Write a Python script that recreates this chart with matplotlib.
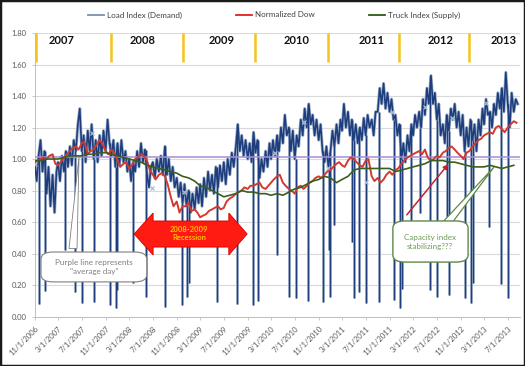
import pandas as pd
import matplotlib
matplotlib.use("Agg")
import matplotlib.pyplot as plt
from matplotlib.patches import Polygon, FancyBboxPatch, Rectangle
from matplotlib.lines import Line2D

plt.rcParams['font.family'] = ['Lato', 'DejaVu Sans']

# ---- values ----
months = pd.date_range('2006-11-01', '2013-08-01', freq='MS')

# Load Index (Demand): three readings a month (1st, 11th, 21st)
load_vals = [
    0.97, 0.86, 1.02,  1.12, 0.92, 1.05,   # 2006 Nov-Dec
    0.78, 0.95, 0.70,  0.90, 0.66, 0.92,  0.98, 0.86, 1.02,  0.92, 1.05, 0.95,   # 2007
    1.08, 0.96, 1.12,  1.05, 1.22, 1.32,  1.05, 1.15, 0.98,  1.18, 1.05, 1.22,
    1.00, 1.12, 0.98,  1.15, 1.02, 1.18,  1.05, 1.25, 1.10,  1.02, 1.12, 0.95,
    1.10, 0.96, 1.12,  0.98, 1.05, 0.92,  1.00, 0.86, 0.98,  0.92, 1.05, 0.95,   # 2008
    1.10, 0.98, 1.06,  0.90, 0.82, 0.95,  0.98, 0.88, 1.00,  0.92, 1.02, 0.90,
    1.08, 0.90, 1.00,  0.86, 0.95, 0.82,  0.88, 0.76, 0.85,  0.72, 0.84, 0.70,
    0.80, 0.66, 0.78,  0.68, 0.82, 0.72,  0.84, 0.70, 0.88,  0.76, 0.92, 0.80,   # 2009
    0.90, 0.78, 0.95,  0.82, 0.96, 0.86,  0.98, 0.84, 1.00,  0.90, 1.04, 0.95,
    1.08, 1.22, 1.05,  1.15, 1.02, 1.12,  1.00, 1.10, 0.98,  1.17, 1.04, 1.12,
    0.88, 1.00, 0.92,  1.05, 0.95, 1.10,  1.00, 1.12, 1.02,  1.15, 1.05, 1.20,   # 2010
    1.10, 1.28, 1.15,  1.20, 1.05, 1.18,  1.00, 1.15, 1.08,  1.25, 1.15, 1.32,
    1.20, 1.35, 1.22,  1.28, 1.15, 1.25,  1.12, 1.22, 1.05,  0.98, 1.08, 0.95,
    1.05, 1.18, 1.08,  1.22, 1.10, 1.25,  1.18, 1.35, 1.20,  1.30, 1.15, 1.25,   # 2011
    1.12, 1.22, 1.10,  1.20, 1.12, 1.26,  1.15, 1.28, 1.20,  1.25, 1.15, 1.30,
    1.30, 1.45, 1.35,  1.48, 1.32, 1.42,  1.30, 1.38, 1.25,  1.28, 1.15, 1.22,
    1.00, 1.10, 0.98,  1.15, 1.05, 1.22,  1.15, 1.28, 1.20,  1.30, 1.20, 1.38,   # 2012
    1.28, 1.45, 1.35,  1.53, 1.35, 1.42,  1.25, 1.35, 1.15,  1.22, 1.10, 1.28,
    1.18, 1.32, 1.25,  1.35, 1.20, 1.30,  1.15, 1.28, 1.05,  1.20, 1.08, 1.25,
    1.12, 1.22, 1.05,  1.25, 1.15, 1.32,  1.22, 1.38, 1.28,  1.30, 1.20, 1.35,   # 2013
    1.28, 1.42, 1.32,  1.45, 1.30, 1.55,  1.35, 1.20, 1.42,  1.30, 1.38, 1.35,
]

# holiday drop-outs in the load index
dip_dates = ['2006-11-23', '2006-12-25', '2007-04-06', '2007-05-28', '2007-07-04',
             '2007-09-03', '2007-11-22', '2007-12-25', '2008-01-01', '2008-03-21',
             '2008-05-26', '2008-09-01', '2008-11-27', '2008-12-25', '2009-01-01',
             '2009-05-25', '2009-09-07', '2009-11-26', '2009-12-25', '2010-04-02',
             '2010-05-31', '2010-07-05', '2010-09-06', '2010-11-25', '2010-12-24',
             '2010-12-31', '2011-01-17', '2011-04-22', '2011-05-02', '2011-05-30',
             '2011-07-04', '2011-09-05', '2011-11-24', '2011-12-26', '2012-01-02',
             '2012-02-20', '2012-04-06', '2012-05-28', '2012-07-04', '2012-08-20',
             '2012-09-03', '2012-11-22', '2012-12-25', '2013-01-01', '2013-03-29',
             '2013-05-27', '2013-07-04']
dip_vals = [0.08, 0.16, 0.42, 0.155, 0.085,
            0.09, 0.073, 0.054, 0.17, 0.21,
            0.124, 0.06, 0.073, 0.124, 0.21,
            0.09, 0.08, 0.073, 0.10, 0.39,
            0.124, 0.117, 0.10, 0.093, 0.42,
            0.124, 0.58, 0.47, 0.117, 0.155,
            0.086, 0.092, 0.105, 0.054, 0.175,
            0.47, 0.66, 0.17, 0.124, 0.63,
            0.136, 0.117, 0.086, 0.21, 0.57,
            0.206, 0.117]

# light markers sitting on the load index
mark_dates = ['2006-11-03', '2007-08-25', '2008-06-28', '2008-12-07', '2010-03-20',
              '2010-08-20', '2010-12-20', '2011-07-05', '2011-11-15', '2012-05-01',
              '2012-09-15', '2013-03-10']
mark_vals = [0.97, 1.165, 0.815, 0.79, 1.04, 1.235, 0.94, 0.855, 1.30, 1.33, 1.26, 1.355]

# Normalized Dow: two readings a month (1st, 15th)
dow_vals = [
    0.98, 0.99,  1.00, 1.01,
    1.00, 1.02,  1.03, 0.97,  0.96, 0.98,  1.01, 1.03,  1.05, 1.07,  1.08, 1.06,
    1.10, 1.11,  1.03, 1.05,  1.06, 1.09,  1.12, 1.10,  1.05, 1.03,  1.06, 1.04,
    0.99, 0.95,  0.97, 0.98,  0.94, 0.96,  1.00, 1.01,  1.03, 1.02,  0.99, 0.93,
    0.90, 0.87,  0.90, 0.91,  0.89, 0.84,  0.76, 0.70,  0.73, 0.66,  0.70, 0.70,
    0.72, 0.67,  0.68, 0.66,  0.63, 0.64,  0.65, 0.67,  0.68, 0.69,  0.70, 0.68,
    0.69, 0.73,  0.75, 0.76,  0.78, 0.79,  0.80, 0.82,  0.81, 0.83,  0.83, 0.84,
    0.85, 0.82,  0.81, 0.83,  0.85, 0.87,  0.89, 0.90,  0.85, 0.83,  0.81, 0.80,
    0.78, 0.82,  0.83, 0.81,  0.83, 0.85,  0.86, 0.88,  0.89, 0.88,  0.90, 0.92,
    0.93, 0.95,  0.97, 0.98,  0.96, 0.95,  0.99, 1.01,  1.00, 0.98,  0.96, 0.95,
    0.99, 1.00,  0.89, 0.86,  0.88, 0.85,  0.87, 0.90,  0.92, 0.90,  0.93, 0.94,
    0.97, 0.99,  1.01, 1.02,  1.03, 1.04,  1.05, 1.03,  1.06, 1.01,  0.99, 1.00,
    1.02, 1.01,  1.04, 1.05,  1.07, 1.08,  1.06, 1.04,  1.02, 1.00,  1.04, 1.05,
    1.08, 1.10,  1.12, 1.13,  1.15, 1.16,  1.17, 1.16,  1.20, 1.21,  1.19, 1.17,
    1.20, 1.22,  1.24, 1.23,
]

# Truck Index (Supply): one reading a month
truck_vals = [
    0.99, 0.99,
    1.00, 1.00, 1.00, 1.01, 1.02, 1.02, 1.02, 1.03, 1.03, 1.04, 1.04, 1.03,
    1.02, 1.01, 1.00, 0.99, 0.98, 0.96, 0.95, 0.94, 0.93, 0.92, 0.91, 0.89,
    0.88, 0.86, 0.83, 0.82, 0.80, 0.78, 0.76, 0.77, 0.78, 0.80, 0.79, 0.79,
    0.78, 0.78, 0.77, 0.78, 0.77, 0.79, 0.81, 0.82, 0.84, 0.86, 0.87, 0.89,
    0.88, 0.85, 0.87, 0.89, 0.93, 0.94, 0.94, 0.94, 0.94, 0.94, 0.94, 0.92,
    0.93, 0.94, 0.95, 0.96, 0.97, 0.99, 0.99, 0.99, 0.98, 0.98, 0.97, 0.96,
    0.95, 0.95, 0.95, 0.96, 0.95, 0.94, 0.95, 0.96,
]

average_day = 1.015

year_labels = ['2007', '2008', '2009', '2010', '2011', '2012', '2013']
year_label_dates = ['2007-03-19', '2008-05-10', '2009-06-20', '2010-07-10',
                    '2011-08-01', '2012-07-21', '2013-06-10']
year_line_dates = ['2006-11-08', '2007-11-28', '2008-12-03', '2009-12-07',
                   '2010-12-18', '2011-12-19', '2012-12-13']

tick_dates = pd.date_range('2006-11-01', '2013-07-01', freq='4MS')

# ---- series ----
load_dates = [m + pd.Timedelta(days=d) for m in months for d in (0, 10, 20)]
dow_dates = [m + pd.Timedelta(days=d) for m in months for d in (0, 14)]
load = pd.Series(load_vals, index=pd.DatetimeIndex(load_dates))
dips = pd.Series(dip_vals, index=pd.to_datetime(dip_dates))
# each drop-out hangs from the nearest regular reading
dip_tops = load.reindex(dips.index, method='nearest')

fig = plt.figure(figsize=(5.25, 3.66), dpi=100)
ax = fig.add_axes([0.0661, 0.1352, 0.9244, 0.7746])

ax.plot(load.index, load.values, color='#9DAEC9', lw=2.2, zorder=2)
ax.vlines(dips.index, dips.values, dip_tops.values, color='#9DAEC9', lw=2.0, zorder=2)
ax.plot(load.index, load.values, color='#1D3D7C', lw=1.15, zorder=3)
ax.vlines(dips.index, dips.values, dip_tops.values, color='#1D3D7C', lw=0.9, zorder=3)
ax.plot(pd.to_datetime(mark_dates), mark_vals, ls='none', marker='x', ms=3.5,
        mew=0.9, color='#A9BCD8', zorder=3.5)
ax.axhline(average_day, color='#A88CDA', lw=1.1, zorder=4)
ax.plot(dow_dates, dow_vals, color='#D33A2F', lw=1.4, zorder=5)
ax.plot(months, truck_vals, color='#3A5F1C', lw=1.2, zorder=6)

# year bands along the top
ax.vlines(pd.to_datetime(year_line_dates), 1.615, 1.80, color='#F6C21B', lw=1.8, zorder=3)
for lab, d in zip(year_labels, pd.to_datetime(year_label_dates)):
    ax.text(d, 1.75, lab, ha='center', va='center', fontsize=8,
            fontweight='bold', color='#111111')

ax.set_xlim(pd.Timestamp('2006-11-01'), pd.Timestamp('2013-09-02'))
ax.set_ylim(0, 1.8)
ax.set_yticks([i * 0.2 for i in range(10)])
ax.set_yticklabels([f'{i * 0.2:.2f}' for i in range(10)])
ax.set_xticks(tick_dates)
ax.set_xticklabels([f'{d.month}/{d.day}/{d.year}' for d in tick_dates],
                   rotation=45, ha='right', rotation_mode='anchor')
ax.tick_params(labelsize=5.5, labelcolor='#595959', color='#BFBFBF',
               length=2.5, width=0.6)
ax.yaxis.grid(True, color='#D9D9D9', lw=0.8)
ax.set_axisbelow(True)
for s in ['top', 'right']:
    ax.spines[s].set_visible(False)
for s in ['left', 'bottom']:
    ax.spines[s].set_color('#BFBFBF')
    ax.spines[s].set_linewidth(0.7)

# recession arrow
arrow = Polygon([(0.2048, 0.291), (0.2440, 0.365), (0.2440, 0.337), (0.4000, 0.337),
                 (0.4000, 0.365), (0.4378, 0.291), (0.4000, 0.217), (0.4000, 0.245),
                 (0.2440, 0.245), (0.2440, 0.217)],
                closed=True, transform=ax.transAxes, facecolor='#FF1A12',
                edgecolor='#D40000', lw=0.6, zorder=8)
ax.add_patch(arrow)
ax.text(0.318, 0.293, '2008-2009\nRecession', transform=ax.transAxes, ha='center',
        va='center', fontsize=5.5, fontweight='bold', color='#FFC000',
        linespacing=1.1, zorder=9)

# "average day" callout
ax.add_patch(Polygon([(0.0707, 0.24), (0.0913, 0.5637), (0.0872, 0.24)], closed=True,
                     transform=ax.transAxes, facecolor='white', edgecolor='#7F7F7F',
                     lw=0.6, zorder=9))
ax.add_patch(FancyBboxPatch((0.013, 0.122), 0.218, 0.1055,
                            boxstyle='round,pad=0,rounding_size=0.025',
                            transform=ax.transAxes, facecolor='white',
                            edgecolor='#7F7F7F', lw=0.8, zorder=10))
ax.text(0.1224, 0.1746, 'Purple line represents\n"average day"', transform=ax.transAxes,
        ha='center', va='center', fontsize=5.8, color='#7F7F7F', zorder=11)

# capacity callout
ax.add_patch(Polygon([(0.8392, 0.33), (0.9464, 0.5273), (0.8598, 0.33)], closed=True,
                     transform=ax.transAxes, facecolor='white', edgecolor='#5E8A45',
                     lw=0.9, zorder=9))
ax.add_patch(FancyBboxPatch((0.738, 0.192), 0.155, 0.145,
                            boxstyle='round,pad=0,rounding_size=0.025',
                            transform=ax.transAxes, facecolor='white',
                            edgecolor='#5E8A45', lw=1.0, zorder=10))
ax.text(0.815, 0.263, 'Capacity index\nstabilizing???', transform=ax.transAxes,
        ha='center', va='center', fontsize=5.8, color='#6E9A55', zorder=11)

ax.annotate('', xy=(0.8558, 0.545), xytext=(0.7631, 0.351), xycoords='axes fraction',
            arrowprops=dict(arrowstyle='-|>', color='#C3252C', lw=1.1,
                            mutation_scale=7), zorder=8)

handles = [Line2D([], [], color='#7D8EAB', lw=1.3),
           Line2D([], [], color='#E0201B', lw=1.3),
           Line2D([], [], color='#2C5A14', lw=1.3)]
fig.legend(handles, ['Load Index (Demand)', 'Normalized Dow', 'Truck Index (Supply)'],
           loc='center', bbox_to_anchor=(0.522, 0.959), ncol=3, frameon=False,
           fontsize=5.8, handlelength=2.0, handletextpad=0.3, columnspacing=6.8,
           labelcolor='#404040')

fig.patches.append(Rectangle((0, 0), 1, 1, transform=fig.transFigure, fill=False,
                             edgecolor='#1A1A1A', lw=2.5))

fig.savefig('out.png', dpi=100)
